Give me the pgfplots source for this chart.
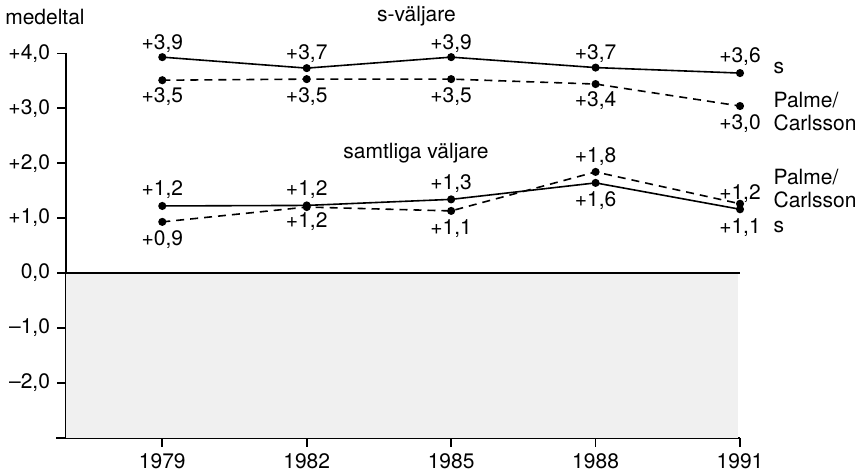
\documentclass[border=0pt]{standalone}
\usepackage{fontspec}
\setmainfont{TeX Gyre Heros}
\usepackage{pgfplots}
\pgfplotsset{compat=1.18}
\begin{document}
\begin{tikzpicture}[font=\fontsize{10.5}{12}\selectfont]
\path[use as bounding box] (-33pt,-16.65pt) rectangle (399.5pt,218.85pt);
\begin{axis}[
 scale only axis, width=337pt, height=192.2pt,
 xmin=1977, xmax=1991, ymin=-3, ymax=4,
 axis x line*=bottom, axis y line*=left,
 axis line style={line width=0.8pt,-},
 xtick={1979,1982,1985,1988,1991},
 xticklabels={1979,1982,1985,1988,1991},
 ytick={-2,-1,0,1,2,3,4},
 yticklabels={{--2,0},{--1,0},{0,0},{+1,0},{+2,0},{+3,0},{+4,0}},
 tick align=outside, major tick length=4.5pt,
 tick style={black, line width=0.8pt},
 clip=false,
 every tick label/.append style={font=\fontsize{10.5}{12}\selectfont},
]
\addplot[fill=black!6, draw=none] coordinates {(1977,0) (1990.95,0) (1990.95,-3) (1977,-3)} -- cycle;
\addplot[black, line width=1pt] coordinates {(1977,0) (1991,0)};
\draw[line width=0.8pt] (axis cs:1976.8,-3) -- (axis cs:1977,-3);

\addplot[black, line width=0.8pt, mark=*, mark size=1.6pt] coordinates {(1979,3.93) (1982,3.73) (1985,3.93) (1988,3.74) (1991,3.64)};
\addplot[black, line width=0.8pt, dash pattern=on 4pt off 3pt, mark=*, mark size=1.6pt, mark options={solid}] coordinates {(1979,3.51) (1982,3.53) (1985,3.53) (1988,3.44) (1991,3.04)};
\addplot[black, line width=0.8pt, mark=*, mark size=1.6pt] coordinates {(1979,1.22) (1982,1.23) (1985,1.34) (1988,1.64) (1991,1.16)};
\addplot[black, line width=0.8pt, dash pattern=on 4pt off 3pt, mark=*, mark size=1.6pt, mark options={solid}] coordinates {(1979,0.93) (1982,1.20) (1985,1.13) (1988,1.84) (1991,1.26)};

% value labels
\node at (axis cs:1979,4.18) {+3,9};
\node at (axis cs:1982,4.00) {+3,7};
\node at (axis cs:1985,4.18) {+3,9};
\node at (axis cs:1988,4.00) {+3,7};
\node at (axis cs:1991,3.94) {+3,6};
\node at (axis cs:1979,3.21) {+3,5};
\node at (axis cs:1982,3.21) {+3,5};
\node at (axis cs:1985,3.21) {+3,5};
\node at (axis cs:1988,3.13) {+3,4};
\node at (axis cs:1991,2.72) {+3,0};

\node at (axis cs:1979,1.51) {+1,2};
\node at (axis cs:1982,1.51) {+1,2};
\node at (axis cs:1985,1.62) {+1,3};
\node at (axis cs:1988,2.12) {+1,8};
\node at (axis cs:1991,1.45) {+1,2};
\node at (axis cs:1988,1.31) {+1,6};
\node at (axis cs:1979,0.61) {+0,9};
\node at (axis cs:1982,0.93) {+1,2};
\node at (axis cs:1985,0.81) {+1,1};
\node at (axis cs:1991,0.83) {+1,1};

% titles
\node at (axis cs:1984.28,4.67) {s-väljare};
\node at (axis cs:1984.27,2.18) {samtliga väljare};
\node[anchor=west, inner sep=0pt] at (axis cs:1975.73,4.66) {medeltal};

% right side labels
\node[anchor=west, inner sep=0pt] at (axis cs:1991.69,3.73) {s};
\node[anchor=west, inner sep=0pt, align=left, font=\fontsize{10.5}{11.5}\selectfont] at (axis cs:1991.69,2.94) {Palme/\\Carlsson};
\node[anchor=west, inner sep=0pt, align=left, font=\fontsize{10.5}{11.5}\selectfont] at (axis cs:1991.69,1.535) {Palme/\\Carlsson};
\node[anchor=west, inner sep=0pt] at (axis cs:1991.69,0.83) {s};
\end{axis}
\end{tikzpicture}
\end{document}
